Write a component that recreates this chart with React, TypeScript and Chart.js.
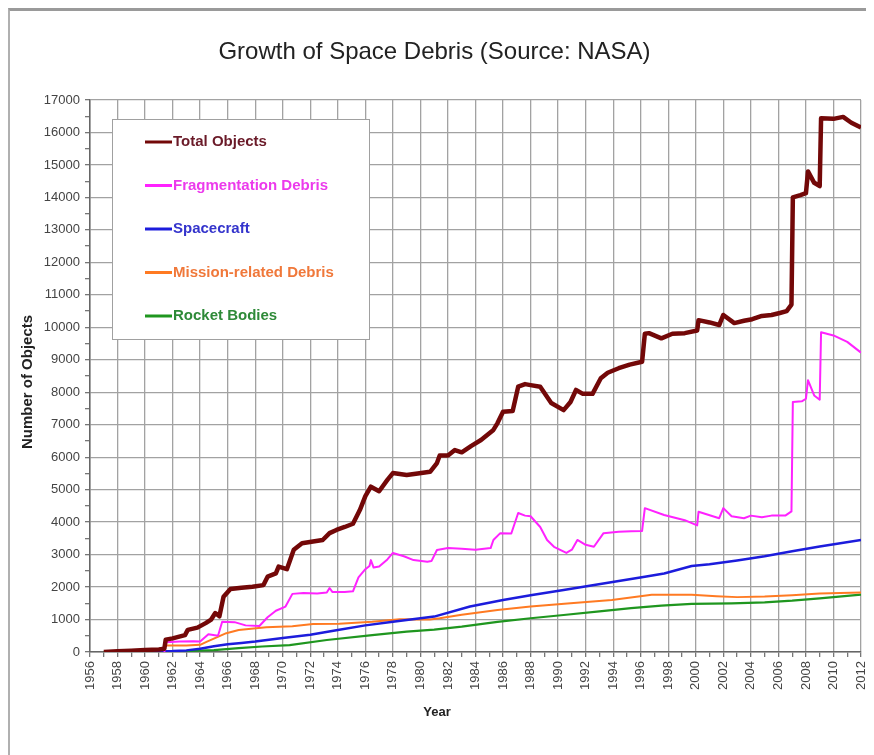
import React, { useEffect, useRef } from "react";
import { Chart, registerables } from "chart.js";

Chart.register(...registerables);

const chartTitle = "Growth of Space Debris (Source: NASA)";
const xTitle = "Year";
const yTitle = "Number of Objects";
const xMin = 1956;
const xMax = 2012;
const yMin = 0;
const yMax = 17000;

const seriesNames = [
  "Total Objects",
  "Fragmentation Debris",
  "Spacecraft",
  "Mission-related Debris",
  "Rocket Bodies",
];

const totalYears = [
  1957.0, 1958.0, 1959.0, 1960.0, 1961.0, 1961.4, 1961.5, 1962.0, 1962.9, 1963.1, 1963.8, 1964.4, 1964.8,
  1965.1, 1965.4, 1965.7, 1966.2, 1967.0, 1967.8, 1968.6, 1968.9, 1969.5, 1969.7, 1970.3, 1970.8, 1971.4,
  1972.2, 1972.9, 1973.4, 1973.9, 1974.5, 1975.1, 1975.6, 1976.0, 1976.4, 1977.0, 1977.6, 1978.0, 1979.0,
  1979.8, 1980.7, 1981.2, 1981.4, 1982.0, 1982.5, 1983.0, 1983.7, 1984.4, 1985.3, 1985.6, 1986.0, 1986.7,
  1987.1, 1987.6, 1988.0, 1988.7, 1989.5, 1990.4, 1990.9, 1991.3, 1991.8, 1992.5, 1993.1, 1993.6, 1994.4,
  1995.2, 1996.1, 1996.3, 1996.6, 1997.5, 1998.3, 1999.2, 2000.1, 2000.2, 2001.0, 2001.7, 2002.0, 2002.8,
  2003.5, 2004.1, 2004.8, 2005.5, 2006.1, 2006.6, 2006.95, 2007.05, 2007.6, 2008.0, 2008.15, 2008.6,
  2009.0, 2009.1, 2010.0, 2010.7, 2011.3, 2012.0,
];
const totalValues = [
  0, 20, 40, 60, 80, 100, 380, 420, 520, 680, 750, 890, 1000,
  1200, 1100, 1700, 1940, 1980, 2010, 2060, 2320, 2420, 2630, 2550, 3150, 3350,
  3400, 3450, 3660, 3760, 3850, 3950, 4370, 4800, 5090, 4950, 5300, 5510, 5450,
  5500, 5550, 5820, 6050, 6050, 6220, 6150, 6350, 6530, 6840, 7050, 7400, 7420,
  8170, 8250, 8220, 8170, 7670, 7450, 7700, 8070, 7950, 7950, 8430, 8600, 8740,
  8850, 8940, 9800, 9820, 9660, 9800, 9820, 9900, 10220, 10150, 10070, 10380, 10130,
  10200, 10250, 10350, 10380, 10440, 10500, 10700, 14000, 14070, 14130, 14800, 14450,
  14350, 16440, 16420, 16480, 16300, 16150,
];

const fragYears = [
  1961.4, 1961.5, 1962.5, 1963.5, 1964.0, 1964.6, 1965.3, 1965.6, 1966.5, 1967.3, 1968.3, 1968.9, 1969.5,
  1970.2, 1970.7, 1971.5, 1972.5, 1973.2, 1973.4, 1973.6, 1974.5, 1975.1, 1975.5, 1976.0, 1976.3, 1976.4,
  1976.6, 1977.0, 1977.6, 1978.0, 1978.8, 1979.5, 1980.5, 1980.8, 1981.2, 1982.0, 1983.0, 1984.0, 1985.1,
  1985.3, 1985.8, 1986.6, 1987.1, 1987.6, 1988.0, 1988.7, 1989.2, 1989.7, 1990.6, 1991.0, 1991.4, 1992.0,
  1992.6, 1993.3, 1994.4, 1995.3, 1996.1, 1996.3, 1997.7, 1999.2, 2000.1, 2000.2, 2001.7, 2002.0, 2002.6,
  2003.5, 2004.0, 2004.8, 2005.5, 2006.5, 2006.95, 2007.05, 2007.7, 2008.0, 2008.15, 2008.6, 2009.0,
  2009.1, 2010.0, 2011.0, 2012.0,
];
const fragValues = [
  0, 300, 320, 330, 320, 550, 500, 930, 920, 820, 800, 1070, 1270,
  1400, 1790, 1820, 1800, 1830, 1970, 1850, 1850, 1870, 2300, 2550, 2650, 2830,
  2600, 2630, 2850, 3050, 2950, 2830, 2780, 2800, 3140, 3200, 3180, 3150, 3200,
  3450, 3660, 3650, 4280, 4200, 4180, 3850, 3450, 3240, 3050, 3150, 3450, 3300,
  3240, 3660, 3700, 3720, 3730, 4430, 4220, 4060, 3900, 4320, 4120, 4430, 4180,
  4120, 4200, 4150, 4200, 4200, 4330, 7700, 7720, 7800, 8370, 7900, 7770,
  9850, 9750, 9550, 9220,
];

const scYears = [
  1957.5, 1959, 1961, 1962, 1963, 1964, 1965, 1966, 1967, 1968, 1970, 1972, 1974, 1976, 1978, 1980, 1981,
  1983.6, 1986, 1988, 1990.4, 1993.4, 1996.3, 1997.7, 1999.7, 2001, 2003, 2005, 2007, 2009, 2012,
];
const scValues = [
  0, 10, 20, 30, 50, 100, 180, 240, 280, 320, 430, 530, 680, 820, 930, 1040, 1090,
  1400, 1600, 1750, 1910, 2120, 2320, 2420, 2650, 2700, 2820, 2950, 3100, 3250, 3450,
];

const mrdYears = [
  1957.5, 1961.3, 1961.5, 1963, 1964, 1964.5, 1965.9, 1966.8, 1968.8, 1970.7, 1972.2, 1974.1, 1976.5,
  1978.5, 1980.7, 1981.4, 1983, 1985.6, 1988, 1990.9, 1993.9, 1996.8, 1999.7, 2001.5, 2003, 2005, 2007,
  2009, 2012,
];
const mrdValues = [
  0, 30, 200, 200, 220, 320, 580, 680, 760, 790, 860, 870, 930,
  1010, 1000, 1040, 1150, 1290, 1400, 1500, 1600, 1760, 1760, 1720, 1690, 1710, 1750,
  1800, 1830,
];

const rbYears = [
  1957, 1960, 1963, 1965, 1966.8, 1968.5, 1970.5, 1973.2, 1976.5, 1979, 1981, 1983, 1985.6, 1988, 1990.4,
  1993, 1995.3, 1997.5, 1999.7, 2002.6, 2005, 2007, 2009, 2012,
];
const rbValues = [
  0, 10, 30, 60, 120, 170, 210, 370, 520, 630, 690, 780, 930, 1040, 1140,
  1250, 1350, 1430, 1480, 1500, 1530, 1580, 1650, 1770,
];

const lineColors = ["#730808", "#ff22ff", "#1c1cdc", "#ff7a22", "#1f961f"];
const lineWidths = [4.5, 2, 2.5, 2, 2.2];
const legendTextColors = ["#6a1a28", "#ec3aec", "#3434cc", "#f0783a", "#2e8a38"];

const FONT = "'Liberation Sans', Arial, sans-serif";

const legendPlugin = {
  id: "insideLegend",
  afterDatasetsDraw(chart: any) {
    const { ctx, chartArea } = chart;
    const bx = chartArea.left + 22;
    const by = chartArea.top + 19;
    const bw = 257;
    const bh = 220;
    ctx.save();
    ctx.fillStyle = "#ffffff";
    ctx.fillRect(bx, by, bw, bh);
    ctx.strokeStyle = "#a0a0a0";
    ctx.lineWidth = 1;
    ctx.strokeRect(bx + 0.5, by + 0.5, bw, bh);
    chart.data.datasets.forEach((ds: any, i: number) => {
      const cy = by + 23 + i * 43.5;
      ctx.strokeStyle = ds.borderColor;
      ctx.lineWidth = 3;
      ctx.beginPath();
      ctx.moveTo(bx + 33, cy);
      ctx.lineTo(bx + 60, cy);
      ctx.stroke();
      ctx.fillStyle = legendTextColors[i];
      ctx.font = "bold 15px " + FONT;
      ctx.textBaseline = "middle";
      ctx.textAlign = "left";
      ctx.fillText(ds.label, bx + 61, cy);
    });
    ctx.restore();
  },
};

const axisTitlesPlugin = {
  id: "axisTitles",
  afterDraw(chart: any) {
    const { ctx, chartArea } = chart;
    ctx.save();
    ctx.fillStyle = "#222";
    ctx.textAlign = "center";
    ctx.textBaseline = "middle";
    ctx.font = "bold 13px " + FONT;
    ctx.fillText(xTitle, chartArea.left + 347, chartArea.bottom + 60);
    ctx.translate(20, chartArea.top + 282);
    ctx.rotate(-Math.PI / 2);
    ctx.font = "bold 15px " + FONT;
    ctx.fillText(yTitle, 0, 0);
    ctx.restore();
  },
};

function toPoints(xs: number[], ys: number[]) {
  return xs.map((x, i) => ({ x, y: ys[i] }));
}

export default function App() {
  const canvasRef = useRef<HTMLCanvasElement | null>(null);

  useEffect(() => {
    if (!canvasRef.current) return;
    const seriesData = [
      toPoints(totalYears, totalValues),
      toPoints(fragYears, fragValues),
      toPoints(scYears, scValues),
      toPoints(mrdYears, mrdValues),
      toPoints(rbYears, rbValues),
    ];
    const chart = new Chart(canvasRef.current, {
      type: "line",
      data: {
        datasets: seriesNames.map((name, i) => ({
          label: name,
          data: seriesData[i],
          borderColor: lineColors[i],
          backgroundColor: lineColors[i],
          borderWidth: lineWidths[i],
          pointRadius: 0,
          tension: 0,
          borderJoinStyle: "round" as const,
          fill: false,
        })),
      },
      options: {
        responsive: false,
        animation: false,
        devicePixelRatio: 1,
        layout: { padding: { left: 0, right: 13, top: 0, bottom: 0 } },
        plugins: {
          legend: { display: false },
          tooltip: { enabled: false },
          title: {
            display: true,
            text: chartTitle,
            color: "#222",
            font: { family: FONT, size: 24, weight: "normal" },
            padding: { top: 30, bottom: 33.2 },
          },
        },
        scales: {
          x: {
            type: "linear",
            min: xMin,
            max: xMax,
            afterFit: (scale: any) => {
              scale.height = 103;
              scale.paddingLeft = 0;
              scale.paddingRight = 0;
            },
            ticks: {
              stepSize: 1,
              autoSkip: false,
              maxRotation: 90,
              minRotation: 90,
              padding: 4,
              color: "#444",
              font: { family: FONT, size: 13 },
              callback: (v: any) => (Number(v) % 2 === 0 ? String(v) : ""),
            },
            grid: {
              color: (c: any) => (c.tick && c.tick.value % 2 === 0 ? "#a2a2a2" : "rgba(0,0,0,0)"),
              tickColor: "#777",
              tickLength: 5,
              lineWidth: 1.3,
            },
            border: { color: "#666", width: 1.5 },
            title: { display: false },
          },
          y: {
            type: "linear",
            min: yMin,
            max: yMax,
            afterFit: (scale: any) => {
              scale.width = 82;
            },
            ticks: {
              stepSize: 500,
              autoSkip: false,
              padding: 5,
              color: "#444",
              font: { family: FONT, size: 13 },
              callback: (v: any) => (Number(v) % 1000 === 0 ? String(v) : ""),
            },
            grid: {
              color: (c: any) => (c.tick && c.tick.value % 1000 === 0 ? "#a2a2a2" : "rgba(0,0,0,0)"),
              tickColor: "#777",
              tickLength: 5,
              lineWidth: 1.3,
            },
            border: { color: "#666", width: 1.5 },
            title: { display: false },
          },
        },
      },
      plugins: [legendPlugin, axisTitlesPlugin],
    } as any);
    return () => chart.destroy();
  }, []);

  return (
    <div style={{ position: "relative", width: 866, height: 747 }}>
      <canvas ref={canvasRef} width={866} height={747} style={{ position: "absolute", left: 0, top: 0 }} />
      <div
        style={{
          position: "absolute",
          left: 0,
          top: 0,
          width: 866,
          height: 747,
          boxSizing: "border-box",
          borderTop: "3px solid #9a9a9a",
          borderLeft: "2px solid #b0b0b0",
          pointerEvents: "none",
        }}
      />
    </div>
  );
}
